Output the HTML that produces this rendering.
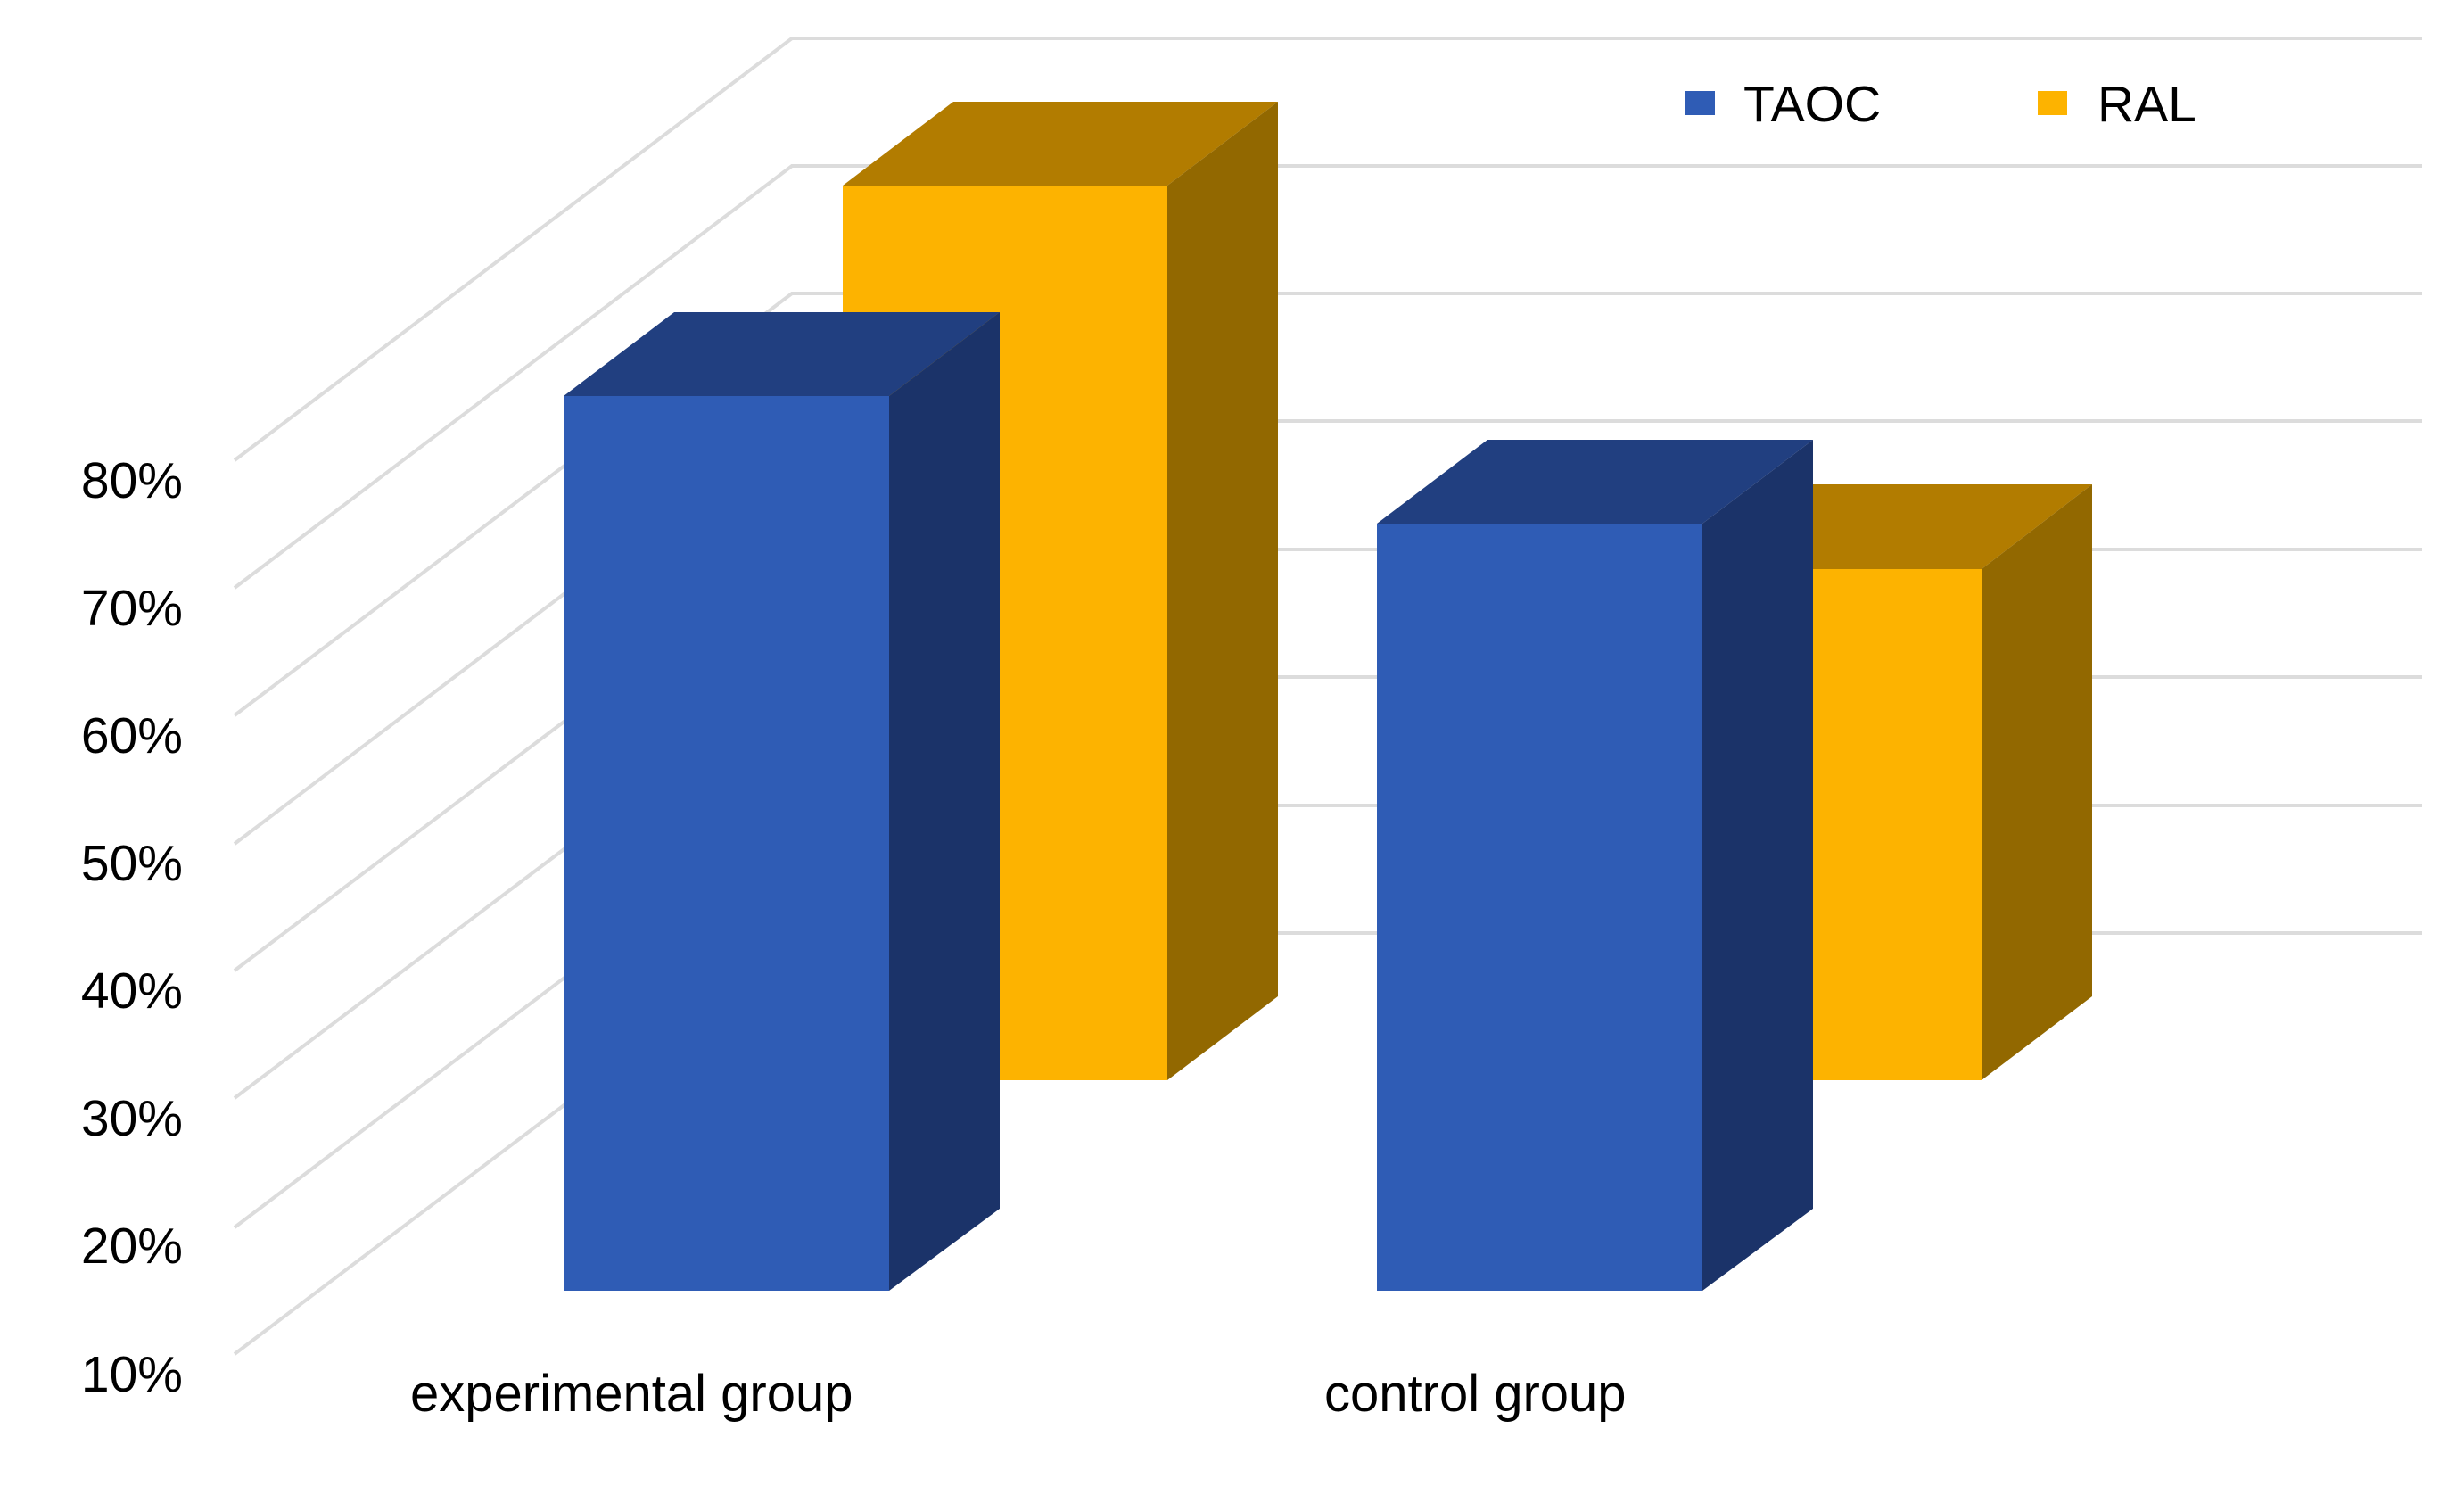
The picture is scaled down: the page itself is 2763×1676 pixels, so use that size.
<!DOCTYPE html>
<html><head><meta charset="utf-8"><style>
html,body{margin:0;padding:0;background:#fff;}
svg{display:block;}
text{font-family:"Liberation Sans",Arial,sans-serif;fill:#000;}
</style></head><body>
<svg width="2763" height="1676" viewBox="0 0 2763 1676" xmlns="http://www.w3.org/2000/svg">
<g stroke="#dcdcdc" stroke-width="4" fill="none">
<polyline points="263,516 888,43 2716,43"/>
<polyline points="263,659 888,186 2716,186"/>
<polyline points="263,802 888,329 2716,329"/>
<polyline points="263,946 888,472 2716,472"/>
<polyline points="263,1088 888,616 2716,616"/>
<polyline points="263,1231 888,759 2716,759"/>
<polyline points="263,1376 888,903 2716,903"/>
<polyline points="263,1518 888,1046 2716,1046"/>
</g>
<g font-size="57" text-anchor="end">
<text x="205" y="558">80%</text>
<text x="205" y="701">70%</text>
<text x="205" y="844">60%</text>
<text x="205" y="987">50%</text>
<text x="205" y="1130">40%</text>
<text x="205" y="1273">30%</text>
<text x="205" y="1416">20%</text>
<text x="205" y="1560">10%</text>
</g>
<polygon points="945,208 1069,114 1433,114 1309,208" fill="#b27c00"/>
<polygon points="1309,208 1433,114 1433,1117 1309,1211" fill="#926800"/>
<rect x="945" y="208" width="364" height="1003" fill="#fdb300"/>
<polygon points="632,444 756,350 1121,350 997,444" fill="#213f80"/>
<polygon points="997,444 1121,350 1121,1355 997,1447" fill="#1b3369"/>
<rect x="632" y="444" width="365" height="1003" fill="#2f5cb5"/>
<polygon points="1857,638 1981,543 2346,543 2222,638" fill="#b27c00"/>
<polygon points="2222,638 2346,543 2346,1117 2222,1211" fill="#926800"/>
<rect x="1857" y="638" width="365" height="573" fill="#fdb300"/>
<polygon points="1544,587 1668,493 2033,493 1909,587" fill="#213f80"/>
<polygon points="1909,587 2033,493 2033,1355 1909,1447" fill="#1b3369"/>
<rect x="1544" y="587" width="365" height="860" fill="#2f5cb5"/>
<rect x="1890" y="102" width="33" height="27" fill="#2f5cb5"/>
<text x="1955" y="136" font-size="57">TAOC</text>
<rect x="2285" y="102" width="33" height="27" fill="#fdb300"/>
<text x="2352" y="136" font-size="57">RAL</text>
<text x="460" y="1582" font-size="58">experimental group</text>
<text x="1485" y="1582" font-size="58">control group</text>
</svg>
</body></html>
